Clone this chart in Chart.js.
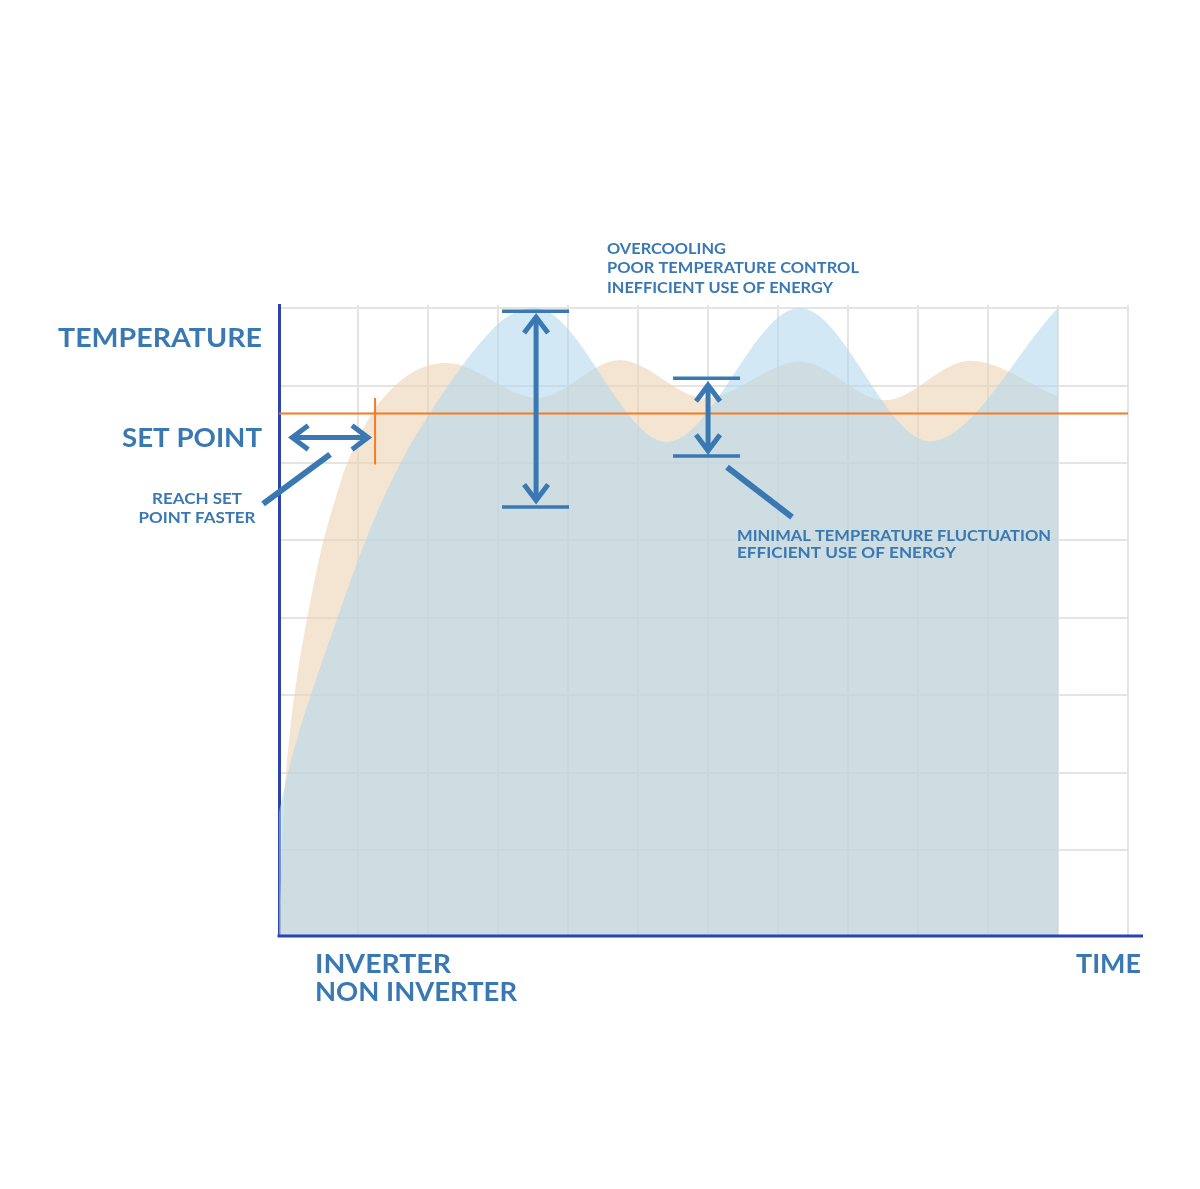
<!DOCTYPE html>
<html>
<head>
<meta charset="utf-8">
<script src="https://cdn.jsdelivr.net/npm/chart.js@4.4.0/dist/chart.umd.min.js"></script>
<style>
  html, body { margin: 0; padding: 0; background: #fff; }
</style>
</head>
<body>
<canvas id="tempChart" width="1200" height="1189"></canvas>
<script>
// time is counted in grid columns, temperature in grid rows
const inverterTime = [-0.114, -0.057, 0.014, 0.1, 0.214, 0.471, 0.671, 0.843, 1.2, 1.529, 1.886, 2.271, 3.56, 4.74, 5.96, 7.31, 8.53, 9.74, 11.0];
const inverterTemp = [0.35, 1.65, 2.42, 3.07, 3.71, 4.87, 5.52, 6.0, 6.64, 7.0, 7.22, 7.29, 6.84, 7.33, 6.84, 7.31, 6.81, 7.32, 6.86];
const nonInverterTime = [-0.129, 0.0, 0.171, 0.386, 0.671, 1.0, 1.314, 1.671, 2.029, 2.386, 2.743, 3.1, 3.529, 5.41, 7.31, 9.17, 11.0];
const nonInverterTemp = [1.49, 2.01, 2.57, 3.17, 3.91, 4.75, 5.45, 6.11, 6.65, 7.13, 7.55, 7.87, 8.0, 6.27, 8.0, 6.28, 8.0];
const setPoint = 6.64;
const timeGrid = [1, 2, 3, 4, 5, 6, 7, 8, 9, 10, 11, 12];
const tempGrid = [1, 2, 3, 4, 5, 6, 7, 8];

const blue = '#3a78b3';
const axisBlue = '#2b44ae';

function toPoints(xs, ys) {
  return xs.map((x, i) => ({ x: x, y: ys[i] }));
}

// annotation marks, in data units
const reachTick = { x: 1.243, y1: 5.98, y2: 6.84 };
const reachArrow = { x1: 0.03, x2: 1.17, y: 6.33 };
const reachLeader = { x1: -0.357, y1: 5.47, x2: 0.6, y2: 6.11 };
const bigRange = { x: 3.543, xa: 3.057, xb: 4.014, top: 7.96, bottom: 5.43, tipTop: 7.91, tipBottom: 5.49 };
const smallRange = { x: 6.0, xa: 5.5, xb: 6.457, top: 7.095, bottom: 6.088, tipTop: 7.03, tipBottom: 6.13 };
const fluctLeader = { x1: 6.271, y1: 5.947, x2: 7.2, y2: 5.30 };

const labels = [
  { text: 'TEMPERATURE', x: 262, y: 347, size: 26, align: 'right', w: 204 },
  { text: 'SET POINT', x: 262, y: 447, size: 26, align: 'right', w: 140 },
  { text: 'REACH SET', x: 197, y: 504, size: 15, align: 'center', w: 90 },
  { text: 'POINT FASTER', x: 197, y: 523, size: 15, align: 'center', w: 117 },
  { text: 'OVERCOOLING', x: 607, y: 254, size: 15, align: 'left', w: 119 },
  { text: 'POOR TEMPERATURE CONTROL', x: 607, y: 273, size: 15, align: 'left', w: 252 },
  { text: 'INEFFICIENT USE OF ENERGY', x: 607, y: 293, size: 15, align: 'left', w: 226 },
  { text: 'MINIMAL TEMPERATURE FLUCTUATION', x: 737, y: 541, size: 16, align: 'left', w: 314 },
  { text: 'EFFICIENT USE OF ENERGY', x: 737, y: 558, size: 16, align: 'left', w: 219 },
  { text: 'INVERTER', x: 315, y: 973, size: 27, align: 'left', w: 136 },
  { text: 'NON INVERTER', x: 315, y: 1001, size: 27, align: 'left', w: 202 },
  { text: 'TIME', x: 1141, y: 973, size: 27, align: 'right', w: 65 }
];

function line(c, x1, y1, x2, y2) {
  c.beginPath();
  c.moveTo(x1, y1);
  c.lineTo(x2, y2);
  c.stroke();
}

// open chevron with tip at (x,y); (ux,uy) points back along the shaft
function head(c, x, y, ux, uy) {
  const along = 16, half = 12;
  c.beginPath();
  c.moveTo(x + ux * along - uy * half, y + uy * along - ux * half);
  c.lineTo(x, y);
  c.lineTo(x + ux * along + uy * half, y + uy * along + ux * half);
  c.stroke();
}

const decorations = {
  id: 'decorations',
  afterDraw(chart) {
    const c = chart.ctx;
    const xs = chart.scales.x, ys = chart.scales.y;
    const px = v => xs.getPixelForValue(v);
    const py = v => ys.getPixelForValue(v);
    const area = chart.chartArea;
    c.save();

    // bottom axis, runs a little past the grid
    c.strokeStyle = axisBlue;
    c.lineWidth = 3;
    line(c, area.left - 1.5, area.bottom, 1143, area.bottom);

    // set point reach tick
    c.strokeStyle = '#f47b20';
    c.lineWidth = 2;
    line(c, px(reachTick.x), py(reachTick.y1), px(reachTick.x), py(reachTick.y2));

    c.strokeStyle = blue;
    c.lineCap = 'butt';
    c.lineJoin = 'miter';
    c.lineWidth = 5;
    // horizontal double arrow
    const ay = py(reachArrow.y);
    line(c, px(reachArrow.x1) + 2, ay, px(reachArrow.x2) - 2, ay);
    head(c, px(reachArrow.x1) + 2, ay, 1, 0);
    head(c, px(reachArrow.x2) - 2, ay, -1, 0);
    c.lineWidth = 6;
    line(c, px(reachLeader.x1), py(reachLeader.y1), px(reachLeader.x2), py(reachLeader.y2));
    line(c, px(fluctLeader.x1), py(fluctLeader.y1), px(fluctLeader.x2), py(fluctLeader.y2));

    // range arrows
    [bigRange, smallRange].forEach(r => {
      const x = px(r.x);
      c.lineWidth = 3.5;
      line(c, px(r.xa), py(r.top), px(r.xb), py(r.top));
      line(c, px(r.xa), py(r.bottom), px(r.xb), py(r.bottom));
      c.lineWidth = 5;
      line(c, x, py(r.tipTop) + 2, x, py(r.tipBottom) - 2);
      head(c, x, py(r.tipTop) + 2, 0, 1);
      head(c, x, py(r.tipBottom) - 2, 0, -1);
    });

    // texts
    c.fillStyle = blue;
    c.textBaseline = 'alphabetic';
    labels.forEach(l => {
      c.font = 'bold ' + l.size + 'px Lato, "Open Sans", sans-serif';
      const m = c.measureText(l.text).width;
      const k = l.w / m;
      let left = l.x;
      if (l.align === 'right') left = l.x - l.w;
      if (l.align === 'center') left = l.x - l.w / 2;
      c.save();
      c.translate(left, l.y);
      c.scale(k, 1);
      c.textAlign = 'left';
      c.fillText(l.text, 0, 0);
      c.restore();
    });
    c.restore();
  }
};

const ctx = document.getElementById('tempChart').getContext('2d');
const tempChart = new Chart(ctx, {
  type: 'line',
  data: {
    datasets: [
      {
        label: 'Set point',
        data: [{ x: -0.13, y: setPoint }, { x: 12, y: setPoint }],
        borderColor: '#f47b20',
        borderWidth: 2,
        pointRadius: 0,
        fill: false
      },
      {
        label: 'Non inverter',
        data: toPoints(nonInverterTime, nonInverterTemp),
        backgroundColor: 'rgba(173,215,237,0.55)',
        borderWidth: 0,
        pointRadius: 0,
        fill: 'start',
        cubicInterpolationMode: 'monotone'
      },
      {
        label: 'Inverter',
        data: toPoints(inverterTime, inverterTemp),
        backgroundColor: 'rgba(237,212,182,0.6)',
        borderWidth: 0,
        pointRadius: 0,
        fill: 'start',
        cubicInterpolationMode: 'monotone'
      }
    ]
  },
  options: {
    responsive: false,
    animation: false,
    layout: { padding: { left: 279, top: 305, right: 72, bottom: 253 } },
    scales: {
      x: {
        type: 'linear',
        min: -0.13,
        max: 12,
        afterBuildTicks: s => { s.ticks = timeGrid.map(v => ({ value: v })); },
        ticks: { display: false },
        grid: { color: '#e4e4e4', lineWidth: 2, drawTicks: false },
        border: { display: false }
      },
      y: {
        type: 'linear',
        min: -0.111,
        max: 8.04,
        afterBuildTicks: s => { s.ticks = tempGrid.map(v => ({ value: v })); },
        ticks: { display: false },
        grid: { color: '#e4e4e4', lineWidth: 2, drawTicks: false },
        border: { display: true, color: axisBlue, width: 3 }
      }
    },
    plugins: {
      legend: { display: false },
      tooltip: { enabled: false }
    }
  },
  plugins: [decorations]
});
</script>
</body>
</html>
